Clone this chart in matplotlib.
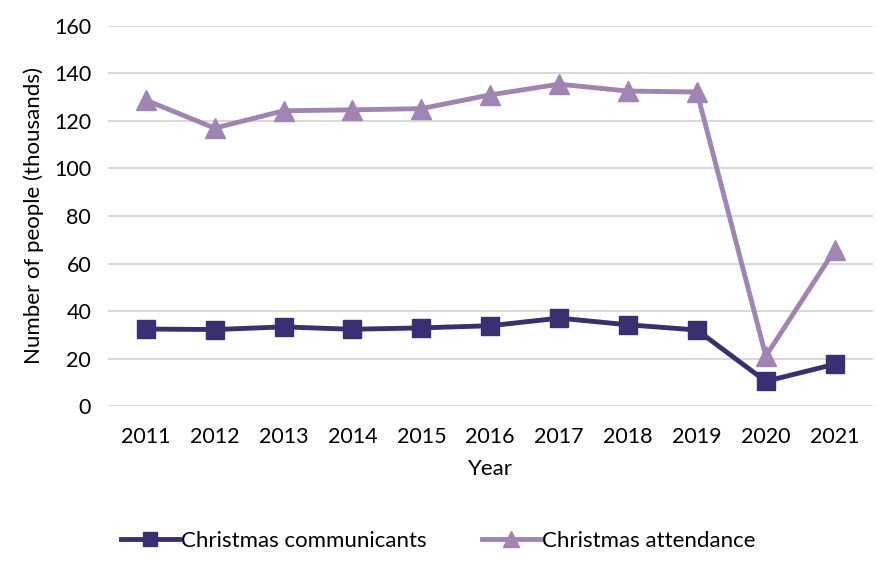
import matplotlib
matplotlib.use("Agg")
import matplotlib.pyplot as plt
import numpy as np

years = ["2011", "2012", "2013", "2014", "2015", "2016", "2017", "2018", "2019", "2020", "2021"]
communicants = [32.4, 32.2, 33.3, 32.3, 32.9, 33.8, 37.0, 34.2, 32.0, 10.4, 17.6]
attendance = [128.8, 117.0, 124.3, 124.7, 125.2, 131.0, 135.5, 132.6, 132.2, 21.0, 65.7]

plt.rcParams["font.family"] = ["Lato", "DejaVu Sans"]

fig = plt.figure(figsize=(8.77, 5.65), dpi=100)
ax = fig.add_axes([0.123, 0.2814, 0.872, 0.6726])

x = np.arange(len(years))
ax.plot(x, communicants, color="#3A2F73", lw=3.5, marker="s", ms=13,
        label="Christmas communicants", solid_joinstyle="round")
ax.plot(x, attendance, color="#A084B4", lw=3.5, marker="^", ms=14,
        label="Christmas attendance", solid_joinstyle="round")

ax.set_xlim(-0.55, len(years) - 0.45)
ax.set_ylim(0, 160)
ax.set_yticks(np.arange(0, 161, 20))
ax.set_xticks(x)
ax.set_xticklabels(years)
ax.grid(axis="y", color="#D9D9D9", lw=1.5)
ax.set_axisbelow(True)
for s in ax.spines.values():
    s.set_visible(False)
ax.tick_params(length=0, labelsize=15.5, colors="black")
ax.tick_params(axis="x", pad=15)
ax.tick_params(axis="y", pad=12)
ax.set_xlabel("Year", fontsize=16, labelpad=9)
ax.set_ylabel("Number of people (thousands)", fontsize=16, labelpad=7)

fig.legend(loc="lower center", bbox_to_anchor=(0.5, -0.01), ncol=2, frameon=False,
           fontsize=16, handlelength=2.6, handletextpad=0.1, columnspacing=2.5,
           markerscale=0.8)

fig.savefig("out.png", dpi=100)
